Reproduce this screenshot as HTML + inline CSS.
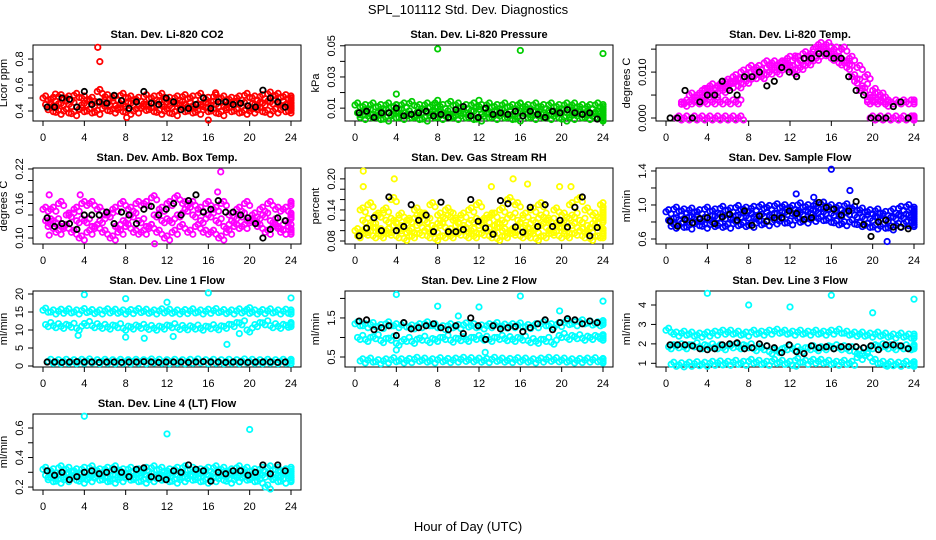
<!DOCTYPE html>
<html><head><meta charset="utf-8"><style>
html,body{margin:0;padding:0;background:#fff}
svg{display:block;font-family:"Liberation Sans",sans-serif}
</style></head><body>
<svg id="chart" width="936" height="540" viewBox="0 0 936 540" xmlns="http://www.w3.org/2000/svg">
<rect width="936" height="540" fill="#fff"/>
<text x="468" y="14" text-anchor="middle" font-size="13">SPL_101112  Std. Dev. Diagnostics</text>
<text x="468" y="531" text-anchor="middle" font-size="13">Hour of Day (UTC)</text>
</svg>
<script>
// ---- data (hour grid: colored series at i*0.75h, black at 0.4+i*0.72h) ----
const xTicks=[0,4,8,12,16,20,24];
const co2A=[0.50,0.49,0.51,0.50,0.52,0.50,0.49,0.55,0.51,0.50,0.52,0.50,0.49,0.51,0.50,0.52,0.49,0.50,0.51,0.50,0.52,0.49,0.51,0.50,0.49,0.50,0.52,0.50,0.51,0.53,0.52,0.51,0.50];
const co2B=[0.45,0.44,0.46,0.45,0.43,0.46,0.45,0.47,0.46,0.44,0.45,0.46,0.44,0.45,0.46,0.45,0.44,0.46,0.45,0.44,0.45,0.46,0.45,0.44,0.46,0.45,0.44,0.45,0.46,0.47,0.46,0.45,0.44];
const co2C=[0.41,0.39,0.40,0.38,0.41,0.40,0.39,0.42,0.40,0.41,0.39,0.40,0.42,0.41,0.39,0.40,0.38,0.41,0.40,0.39,0.41,0.40,0.38,0.41,0.40,0.39,0.40,0.41,0.39,0.40,0.41,0.40,0.42];
const co2K=[0.43,0.43,0.50,0.49,0.43,0.55,0.45,0.47,0.46,0.52,0.48,0.42,0.47,0.55,0.46,0.45,0.50,0.47,0.41,0.42,0.45,0.50,0.42,0.47,0.47,0.45,0.46,0.44,0.43,0.56,0.50,0.47,0.43];
const co2Out=[[5.3,0.89],[5.5,0.78],[8.1,0.35],[16.0,0.33],[16.7,0.54],[1.2,0.53]];

const prA=[0.012,0.011,0.012,0.011,0.012,0.011,0.012,0.013,0.011,0.012,0.012,0.011,0.013,0.012,0.011,0.012,0.011,0.012,0.011,0.012,0.011,0.012,0.011,0.012,0.011,0.012,0.011,0.012,0.012,0.011,0.011,0.012,0.011];
const prB=[0.007,0.008,0.006,0.008,0.007,0.008,0.007,0.006,0.008,0.007,0.008,0.007,0.006,0.008,0.007,0.008,0.006,0.007,0.008,0.007,0.006,0.008,0.007,0.008,0.007,0.006,0.008,0.007,0.008,0.007,0.006,0.008,0.007];
const prC=[0.004,0.005,0.004,0.003,0.005,0.004,0.005,0.004,0.003,0.005,0.004,0.005,0.004,0.005,0.004,0.003,0.005,0.004,0.005,0.004,0.003,0.005,0.004,0.005,0.004,0.005,0.003,0.004,0.005,0.004,0.005,0.004,0.003];
const prK=[0.007,0.008,0.004,0.007,0.007,0.010,0.005,0.006,0.007,0.008,0.005,0.006,0.004,0.009,0.011,0.005,0.004,0.010,0.006,0.007,0.006,0.008,0.005,0.008,0.006,0.004,0.008,0.007,0.009,0.007,0.006,0.007,0.003];
const prOut=[[8,0.048],[16,0.047],[24,0.045],[4,0.019],[8,0.015],[12,0.015],[16,0.013],[4,0.012]];

const tpA=[null,null,0.003,0.005,0.005,0.006,0.005,0.007,0.007,0.008,0.009,0.010,0.010,0.011,0.011,0.012,0.011,0.012,0.013,0.015,0.015,0.014,0.013,0.012,0.009,0.006,0.004,null,null,null,null,null,null];
const tpB=[null,null,null,0.004,0.004,0.005,0.006,0.006,0.008,0.007,0.008,0.009,0.009,0.010,0.010,0.011,0.010,0.011,0.012,0.013,0.014,0.013,0.012,0.011,0.008,0.007,0.005,0.004,0.003,null,null,null,null];
const tpC=[null,null,null,null,0.006,0.007,0.007,0.008,0.009,0.010,0.011,0.011,0.012,0.012,0.012,0.013,0.013,0.014,0.014,0.016,0.016,0.015,0.015,0.013,0.011,0.009,0.006,0.005,null,null,null,null,null];
const tpL1=[null,0.0035,0.0035,0.0035,0.0035,0.0035,0.0035,0.0035,0.0035,null,null,null,null,null,null,null,null,null,null,null,null,null,null,null,null,0.0035,0.0035,0.0035,0.0035,0.0035,0.0035,0.0035,null];
const tpL0=[0,0,0,0,0,0,0,0,0,null,null,null,null,null,null,null,null,null,null,null,null,null,null,null,null,0,0,0,0,0,0,0,0];
const tpK=[0,0,0.006,0,0.0035,0.005,0.005,0.008,0.006,0.005,0.009,0.009,0.010,0.007,0.008,0.011,0.010,0.009,0.013,0.013,0.014,0.014,0.013,0.013,0.009,0.006,0.005,0,0,0,0.0025,0.0035,0];
const tpOut=[[12.5,0.0135],[4,0.0065]];

const abA=[0.15,0.15,0.16,0.14,0.15,0.16,0.16,0.15,0.14,0.15,0.16,0.15,0.16,0.16,0.17,0.15,0.16,0.17,0.16,0.16,0.15,0.16,0.15,0.16,0.14,0.15,0.16,0.14,0.15,0.16,0.15,0.15,0.16];
const abB=[0.13,0.13,0.12,0.14,0.13,0.13,0.12,0.13,0.14,0.12,0.13,0.14,0.13,0.12,0.14,0.13,0.13,0.14,0.15,0.14,0.13,0.14,0.13,0.12,0.13,0.14,0.13,0.13,0.14,0.13,0.12,0.13,0.14];
const abC=[0.12,0.11,0.12,0.11,0.10,0.11,0.12,0.11,0.10,0.11,0.12,0.11,0.11,0.12,0.11,0.10,0.11,0.12,0.11,0.12,0.11,0.11,0.10,0.11,0.12,0.12,0.13,0.12,0.11,0.12,0.11,0.12,0.11];
const abK=[0.135,0.12,0.125,0.125,0.115,0.14,0.14,0.14,0.145,0.125,0.145,0.14,0.125,0.15,0.155,0.14,0.15,0.16,0.14,0.165,0.175,0.145,0.15,0.165,0.145,0.145,0.14,0.135,0.125,0.10,0.115,0.135,0.13];
const abOut=[[0.6,0.175],[3.6,0.175],[17.2,0.215],[16.9,0.18],[10.8,0.09],[0.6,0.105]];

const rhA=[0.10,0.10,0.11,0.10,0.10,0.11,0.10,0.10,0.11,0.10,0.10,0.11,0.10,0.11,0.10,0.10,0.11,0.10,0.11,0.10,0.10,0.11,0.10,0.10,0.11,0.10,0.11,0.10,0.11,0.10,0.10,0.11,0.10];
const rhB=[0.09,0.095,0.09,0.09,0.095,0.09,0.085,0.09,0.095,0.09,0.085,0.09,0.09,0.095,0.09,0.09,0.095,0.09,0.085,0.09,0.095,0.09,0.09,0.085,0.09,0.095,0.09,0.09,0.095,0.09,0.085,0.09,0.09];
const rhC=[0.14,0.15,0.13,0.14,0.16,0.13,0.12,0.14,0.13,0.15,0.13,0.14,0.12,0.13,0.14,0.15,0.12,0.13,0.14,0.16,0.15,0.13,0.14,0.15,0.12,0.14,0.13,0.15,0.16,0.14,0.13,0.15,0.14];
const rhD=[0.12,0.11,0.13,0.12,0.12,0.11,0.12,0.13,0.12,0.11,0.12,0.13,0.12,0.11,0.12,0.12,0.13,0.11,0.12,0.13,0.12,0.11,0.12,0.13,0.12,0.11,0.12,0.13,0.12,0.11,0.12,0.13,0.12];
const rhK=[0.09,0.105,0.125,0.10,0.165,0.10,0.108,0.15,0.12,0.13,0.098,0.155,0.098,0.098,0.102,0.16,0.118,0.105,0.093,0.158,0.152,0.107,0.097,0.145,0.108,0.15,0.108,0.12,0.107,0.145,0.165,0.09,0.106];
const rhOut=[[0.8,0.215],[3.8,0.2],[15.3,0.2],[16.7,0.19],[13.2,0.185],[19.8,0.185],[20.9,0.185],[0.8,0.185]];

const sfA=[0.92,0.95,0.93,0.94,0.92,0.95,0.93,0.96,0.94,0.97,0.95,0.96,0.98,0.97,0.99,0.98,0.97,1.00,0.98,0.99,1.01,0.98,0.97,0.99,0.96,0.94,0.92,0.93,0.90,0.93,0.96,0.98,0.95];
const sfB=[0.82,0.85,0.84,0.86,0.83,0.85,0.87,0.86,0.85,0.88,0.87,0.86,0.89,0.88,0.90,0.91,0.90,0.91,0.92,0.93,0.92,0.90,0.89,0.91,0.88,0.86,0.84,0.85,0.83,0.86,0.87,0.88,0.86];
const sfC=[0.75,0.76,0.74,0.78,0.75,0.77,0.76,0.75,0.78,0.77,0.76,0.79,0.78,0.80,0.81,0.79,0.82,0.81,0.83,0.84,0.82,0.79,0.78,0.80,0.77,0.76,0.74,0.75,0.73,0.76,0.78,0.79,0.77];
const sfK=[0.81,0.75,0.83,0.79,0.84,0.85,0.78,0.86,0.89,0.82,0.93,0.76,0.87,0.81,0.85,0.85,0.93,0.90,0.83,0.85,1.03,0.97,0.95,0.88,0.93,1.04,0.77,0.63,0.80,0.82,0.74,0.74,0.72];
const sfOut=[[16,1.42],[17.8,1.17],[21.4,0.57],[12.6,1.13],[14.3,1.09]];

const l1A=[15.5,15,15.2,15.3,15,15.4,15.1,15,15.3,15.2,15,15.1,15.4,15.2,15,15.3,15.2,15,15.1,15.3,15,15.2,15.4,15.1,15,15.3,15.2,15,15.1,15.3,15,15.2,15];
const l1B=[11.5,11.2,11,11.3,10.5,11.8,11.2,11,10.8,11.2,10.5,10.8,11,10.7,10.5,10.8,11.2,10.7,10.6,10.8,10.5,10.9,10.6,11,11.5,12,10,11.5,12,11.2,11,11.3,11.5];
const l1C=[1.3,1.2,1.3,1.2,1.3,1.4,1.2,1.3,1.2,1.3,1.2,1.3,1.2,1.4,1.3,1.2,1.3,1.2,1.3,1.4,1.2,1.3,1.2,1.3,1.2,1.4,1.3,1.2,1.3,1.2,1.3,1.2,1.3];
const l1K=[1.1,1.1,1.0,1.1,1.2,1.1,1.1,1.0,1.1,1.1,1.0,1.1,1.1,1.2,1.1,1.0,1.1,1.1,1.1,1.0,1.1,1.2,1.1,1.1,1.0,1.1,1.1,1.0,1.1,1.1,1.1,1.0,1.1];
const l1Out=[[4,19.8],[8,18.7],[12,17.7],[16,20.3],[20,16.2],[24,18.9],[17.8,6],[3.4,8.5],[8,8],[9.8,7.7],[12.6,8.2],[19,9]];

const l2A=[1.35,1.3,1.33,1.28,1.35,1.3,1.32,1.27,1.3,1.35,1.3,1.25,1.3,1.28,1.32,1.3,1.27,1.3,1.33,1.29,1.3,1.32,1.28,1.3,1.35,1.3,1.33,1.38,1.35,1.4,1.37,1.35,1.38];
const l2B=[1.0,0.95,1.02,0.92,0.98,0.85,0.95,0.9,0.98,0.92,0.95,1.0,0.93,0.97,0.95,1.0,0.98,0.95,1.0,0.97,0.95,0.98,0.92,0.9,0.95,0.88,1.05,1.0,1.02,0.98,1.0,1.02,0.98];
const l2C=[0.4,0.42,0.38,0.4,0.43,0.4,0.41,0.44,0.42,0.4,0.43,0.41,0.42,0.44,0.43,0.42,0.41,0.44,0.42,0.41,0.43,0.42,0.4,0.42,0.44,0.43,0.42,0.4,0.41,0.42,0.43,0.41,0.4];
const l2K=[1.42,1.45,1.2,1.25,1.3,1.05,1.38,1.22,1.25,1.3,1.35,1.25,1.2,1.3,1.1,1.5,1.3,0.95,1.3,1.22,1.25,1.28,1.15,1.25,1.35,1.45,1.2,1.38,1.48,1.45,1.35,1.42,1.38];
const l2Out=[[4,2.1],[16,2.06],[24,1.93],[8,1.8],[12,1.78],[19.8,1.68],[10,1.55],[12.6,0.62],[4,0.68]];

const l3A=[2.7,2.5,2.55,2.5,2.45,2.5,2.55,2.6,2.6,2.55,2.5,2.6,2.55,2.6,2.65,2.6,2.55,2.6,2.55,2.6,2.55,2.6,2.65,2.55,2.5,2.5,2.45,2.5,2.45,2.4,2.45,2.4,2.4];
const l3B=[1.85,1.9,1.85,1.95,1.85,1.9,1.85,1.8,1.9,1.85,1.9,1.75,1.8,1.6,1.65,1.8,1.75,1.7,1.8,1.75,1.8,1.85,1.8,1.75,1.6,1.5,1.85,1.9,1.85,1.8,1.85,1.8,1.85];
const l3C=[0.95,0.92,0.95,0.98,0.95,1.0,1.02,1.0,1.05,1.0,1.1,1.05,1.0,1.1,1.05,1.0,1.15,1.05,1.1,1.1,1.05,1.0,1.05,1.0,1.3,1.4,1.1,1.0,0.98,0.95,1.0,0.98,0.95];
const l3K=[1.95,1.95,1.95,1.9,1.75,1.7,1.75,1.95,2.0,2.05,1.75,1.8,2.0,1.9,1.8,1.55,1.95,1.6,1.5,1.9,1.8,1.85,1.75,1.85,1.85,1.85,1.8,1.9,1.7,1.95,1.95,1.9,1.75];
const l3Out=[[4,4.6],[8,4],[12,3.9],[16,4.5],[20,3.6],[24,4.3],[12.6,0.85],[21.4,0.85]];

const l4A=[0.32,0.31,0.33,0.32,0.31,0.32,0.33,0.31,0.32,0.33,0.31,0.32,0.31,0.32,0.33,0.32,0.31,0.32,0.33,0.32,0.31,0.32,0.33,0.32,0.31,0.33,0.32,0.31,0.32,0.33,0.32,0.31,0.32];
const l4B=[0.28,0.27,0.28,0.29,0.28,0.27,0.28,0.29,0.27,0.28,0.28,0.27,0.29,0.28,0.27,0.28,0.29,0.28,0.27,0.28,0.29,0.28,0.27,0.28,0.29,0.28,0.27,0.28,0.28,0.27,0.28,0.29,0.28];
const l4C=[0.25,0.24,0.25,0.26,0.24,0.25,0.26,0.25,0.24,0.25,0.26,0.25,0.24,0.25,0.26,0.25,0.24,0.25,0.26,0.25,0.24,0.25,0.26,0.24,0.25,0.26,0.25,0.24,0.2,0.25,0.24,0.26,0.25];
const l4K=[0.31,0.28,0.30,0.25,0.27,0.30,0.31,0.29,0.30,0.32,0.30,0.27,0.32,0.33,0.27,0.26,0.25,0.31,0.30,0.35,0.32,0.31,0.24,0.30,0.29,0.31,0.31,0.28,0.30,0.35,0.29,0.35,0.31];
const l4Out=[[4,0.68],[12,0.56],[20,0.59]];

// ---- panels ----
const panels=[
 {name:'li820-co2',title:'Stan. Dev. Li-820 CO2',ylab:'Licor ppm',col:0,row:0,ymin:0.323,ymax:0.908,ticks:[0.4,0.5,0.6,0.7,0.8],labs:['0.4','','0.6','','0.8'],color:'#ff0000',series:[co2A,co2B,co2C],k:co2K,out:co2Out},
 {name:'li820-pressure',title:'Stan. Dev. Li-820 Pressure',ylab:'kPa',col:1,row:0,ymin:0.00175,ymax:0.0505,ticks:[0.01,0.02,0.03,0.04,0.05],labs:['0.01','','0.03','','0.05'],color:'#00cd00',series:[prA,prB,prC],k:prK,out:prOut},
 {name:'li820-temp',title:'Stan. Dev. Li-820 Temp.',ylab:'degrees C',col:2,row:0,ymin:-0.00065,ymax:0.0159,ticks:[0,0.005,0.010,0.015],labs:['0.000','','0.010',''],color:'#ff00ff',series:[tpA,tpB,tpC,tpL1,tpL0],k:tpK,out:tpOut},
 {name:'amb-box-temp',title:'Stan. Dev. Amb. Box Temp.',ylab:'degrees C',col:0,row:1,ymin:0.0896,ymax:0.2217,ticks:[0.10,0.12,0.14,0.16,0.18,0.20,0.22],labs:['0.10','','','0.16','','','0.22'],color:'#ff00ff',series:[abA,abB,abC],k:abK,out:abOut},
 {name:'gas-stream-rh',title:'Stan. Dev. Gas Stream RH',ylab:'percent',col:1,row:1,ymin:0.0742,ymax:0.221,ticks:[0.08,0.10,0.12,0.14,0.16,0.18,0.20],labs:['0.08','','','0.14','','','0.20'],color:'#ffff00',series:[rhA,rhB,rhC,rhD],k:rhK,out:rhOut},
 {name:'sample-flow',title:'Stan. Dev. Sample Flow',ylab:'ml/min',col:2,row:1,ymin:0.541,ymax:1.435,ticks:[0.6,0.8,1.0,1.2,1.4],labs:['0.6','','1.0','','1.4'],color:'#0000ff',series:[sfA,sfB,sfC],k:sfK,out:sfOut},
 {name:'line1-flow',title:'Stan. Dev. Line 1 Flow',ylab:'ml/min',col:0,row:2,ymin:-0.28,ymax:20.83,ticks:[0,5,10,15,20],labs:['0','5','10','15','20'],color:'#00ffff',series:[l1A,l1B,l1C],k:l1K,out:l1Out},
 {name:'line2-flow',title:'Stan. Dev. Line 2 Flow',ylab:'ml/min',col:1,row:2,ymin:0.244,ymax:2.19,ticks:[0.5,1.0,1.5,2.0],labs:['0.5','','1.5',''],color:'#00ffff',series:[l2A,l2B,l2C],k:l2K,out:l2Out},
 {name:'line3-flow',title:'Stan. Dev. Line 3 Flow',ylab:'ml/min',col:2,row:2,ymin:0.81,ymax:4.72,ticks:[1,2,3,4],labs:['1','2','3','4'],color:'#00ffff',series:[l3A,l3B,l3C],k:l3K,out:l3Out},
 {name:'line4-flow',title:'Stan. Dev. Line 4 (LT) Flow',ylab:'ml/min',col:0,row:3,ymin:0.18,ymax:0.695,ticks:[0.2,0.3,0.4,0.5,0.6],labs:['0.2','','0.4','','0.6'],color:'#00ffff',series:[l4A,l4B,l4C],k:l4K,out:l4Out}
];
const NS='http://www.w3.org/2000/svg';
const svg=document.getElementById('chart');
const colLeft=[33,345,656], rowTop=[45,168,291,414], PW=268, PH=76;
// marker cluster glyph: each sample drawn as a tight group of rings (hours, px)
const clusterDx=[0,0.25,0.5], clusterDy=[0,-2,2];
function mk(tag,attrs,parent){const e=document.createElementNS(NS,tag);for(const k in attrs)e.setAttribute(k,attrs[k]);parent.appendChild(e);return e;}
panels.forEach(p=>{
  const L=colLeft[p.col],T=rowTop[p.row],B=T+PH;
  const g=mk('g',{},svg);
  
  
  const xs=h=>L+10+h*248/24;
  const ys=v=>B-(v-p.ymin)/(p.ymax-p.ymin)*PH;
  const t=mk('text',{x:L+PW/2,y:T-7,'text-anchor':'middle','font-size':11,'font-weight':'bold'},g);
  t.textContent=p.title;
  
  
  const xa=mk('g',{},g);
  
  
  mk('line',{x1:xs(0),x2:xs(24),y1:B,y2:B,stroke:'#000'},xa);
  xTicks.forEach(h=>{mk('line',{x1:xs(h),x2:xs(h),y1:B,y2:B+5,stroke:'#000'},xa);
    const lt=mk('text',{x:xs(h),y:B+20,'text-anchor':'middle','font-size':11},xa);lt.textContent=h;
    
    });
  const ya=mk('g',{},g);
  
  
  mk('line',{x1:L,x2:L,y1:ys(p.ticks[0]),y2:ys(p.ticks[p.ticks.length-1]),stroke:'#000'},ya);
  p.ticks.forEach((v,i)=>{const y=ys(v);mk('line',{x1:L-5,x2:L,y1:y,y2:y,stroke:'#000'},ya);
    if(p.labs[i]){const lt=mk('text',{x:L-10,y:y,'text-anchor':'middle','font-size':11,transform:`rotate(-90 ${L-10} ${y})`},ya);lt.textContent=p.labs[i];
    
    }});
  const yt=mk('text',{x:L-26,y:T+PH/2,'text-anchor':'middle','font-size':11,transform:`rotate(-90 ${L-26} ${T+PH/2})`},g);
  yt.textContent=p.ylab;
  
  
  mk('rect',{x:L,y:T,width:PW,height:PH,fill:'none',stroke:'#000'},g);
  const sg=mk('g',{fill:'none',stroke:p.color,'stroke-width':1.8},g);
  
  
  p.series.forEach((arr,j)=>arr.forEach((v,i)=>{if(v===null)return;
    clusterDx.forEach((dx,m)=>{const h=Math.min(24,i*0.75+j*0.25+dx);
      const c=mk('circle',{cx:xs(h),cy:ys(v)+clusterDy[m]*(j%2?-1:1),r:2.7},sg);
      
      });}));
  p.out.forEach(o=>{const c=mk('circle',{cx:xs(o[0]),cy:ys(o[1]),r:2.7},sg);
    
    });
  const kg=mk('g',{fill:'none',stroke:'#000','stroke-width':1.8},g);
  
  
  p.k.forEach((v,i)=>{if(v===null)return;const c=mk('circle',{cx:xs(0.4+i*0.72),cy:ys(v),r:2.7},kg);
    
    });
});
</script>
</body></html>
